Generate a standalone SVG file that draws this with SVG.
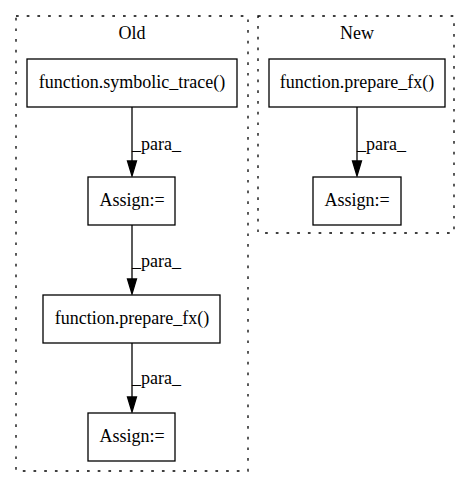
<svg xmlns="http://www.w3.org/2000/svg" width="472" height="488" viewBox="0 0 472 488">
<style>
.cl{fill:none;stroke:#000;stroke-width:1.3;stroke-dasharray:2.7,8}
.nd{fill:#fff;stroke:#000;stroke-width:1.3}
.t{font-family:"Liberation Serif",serif;font-size:18px;text-anchor:middle;fill:#000}
.lb{font-family:"Liberation Serif",serif;font-size:18px;text-anchor:start;fill:#000}
.e{fill:none;stroke:#000;stroke-width:1.3}
.ah{fill:#000;stroke:#000;stroke-width:1.3}
</style>
<rect width="472" height="488" fill="#fff"/>
<g id="cluster_old">
<rect class="cl" x="16" y="16" width="232" height="455"/>
<text class="t" x="132" y="39">Old</text>
</g>
<g id="cluster_new">
<rect class="cl" x="258" y="16" width="196" height="217"/>
<text class="t" x="357" y="39">New</text>
</g>
<g id="connectors">
<path class="e" d="M132,107 L132,161"/>
<polygon class="ah" points="127.5,161 132,176 136.5,161"/>
<text class="lb" x="132" y="150">_para_</text>
<path class="e" d="M132,225 L132,279"/>
<polygon class="ah" points="127.5,279 132,294 136.5,279"/>
<text class="lb" x="132" y="267">_para_</text>
<path class="e" d="M132,343 L132,397"/>
<polygon class="ah" points="127.5,397 132,412 136.5,397"/>
<text class="lb" x="132" y="384">_para_</text>
<path class="e" d="M357,107 L357,161"/>
<polygon class="ah" points="352.5,161 357,176 361.5,161"/>
<text class="lb" x="357" y="150">_para_</text>
</g>
<g id="node_symbolic_trace">
<rect class="nd" x="27" y="59" width="210" height="48"/>
<text class="t" x="132" y="88">function.symbolic_trace()</text>
</g>
<g id="node_assign1">
<rect class="nd" x="88" y="177" width="87" height="48"/>
<text class="t" x="132" y="206">Assign:=</text>
</g>
<g id="node_prepare_old">
<rect class="nd" x="43" y="295" width="177" height="48"/>
<text class="t" x="132" y="324">function.prepare_fx()</text>
</g>
<g id="node_assign2">
<rect class="nd" x="88" y="413" width="87" height="48"/>
<text class="t" x="132" y="442">Assign:=</text>
</g>
<g id="node_prepare_new">
<rect class="nd" x="269" y="59" width="176" height="48"/>
<text class="t" x="357" y="88">function.prepare_fx()</text>
</g>
<g id="node_assign_new">
<rect class="nd" x="313" y="177" width="88" height="48"/>
<text class="t" x="357" y="206">Assign:=</text>
</g>
</svg>
